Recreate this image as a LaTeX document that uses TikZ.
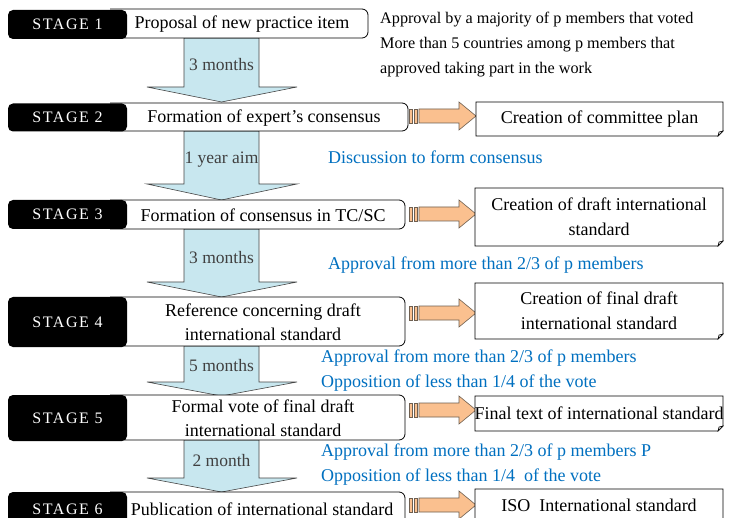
\documentclass[tikz,border=0pt]{standalone}
\usepackage{fontspec}
\setmainfont{Liberation Serif}
\definecolor{flowblue}{RGB}{200,231,239}
\definecolor{floworange}{RGB}{250,192,143}
\definecolor{orangeedge}{RGB}{110,95,80}
\definecolor{noteblue}{RGB}{0,112,192}
\definecolor{edgegray}{RGB}{70,70,70}
\definecolor{labelgray}{RGB}{64,64,64}

\tikzset{
  stagetag/.style={fill=black, rounded corners=5pt, text=white, inner sep=0pt,
    minimum width=119pt,
    font=\fontsize{16}{16}\selectfont\addfontfeature{LetterSpace=10}},
  stepbox/.style={draw=black, line width=0.8pt, fill=white, rounded corners=6pt},
  steptext/.style={font=\fontsize{18}{24}\selectfont, align=center, inner sep=0pt},
  resultbox/.style={draw=black, line width=0.8pt, fill=white},
  resulttext/.style={font=\fontsize{18}{25}\selectfont, align=center, inner sep=0pt},
  downarrow/.style={fill=flowblue, draw=edgegray, line width=0.6pt, line join=miter},
  sidearrow/.style={fill=floworange, draw=orangeedge, line width=0.6pt, line join=miter},
  timetext/.style={font=\fontsize{17.5}{17.5}\selectfont, text=labelgray, inner sep=0pt},
  notetext/.style={font=\fontsize{18}{25}\selectfont, text=noteblue, align=left, anchor=west, inner sep=0pt},
  plaintext/.style={font=\fontsize{16.2}{25}\selectfont, align=left, anchor=north west, inner sep=0pt},
}

% block arrow pointing down: top y, head base y, tip y, label node name, label
\newcommand\blockdown[5]{%
  \draw[downarrow] (184,#1) -- (259,#1) -- (259,#2) -- (297,#2) -- (221.5,#3)
    -- (147,#2) -- (184,#2) -- cycle;
  \node[timetext] (#4) at (221.5,{(#1+#2)/2+2}) {#5};
}
% orange arrow pointing right, centred on the given y
\newcommand\blockright[1]{%
  \draw[sidearrow] (409,#1-7) rectangle (412.5,#1+7);
  \draw[sidearrow] (414,#1-7) rectangle (417.5,#1+7);
  \draw[sidearrow] (419,#1-7) -- (459,#1-7) -- (459,#1-14) -- (476,#1)
    -- (459,#1+14) -- (459,#1+7) -- (419,#1+7) -- cycle;
}
% result box with a folded bottom-right corner: name, x1, y1, x2, y2
\newcommand\foldbox[5]{%
  \draw[resultbox] (#2,#3) -- (#4,#3) -- (#4,#5-5) -- (#4-5,#5) -- (#2,#5) -- cycle;
  \draw[line width=0.6pt, fill=black!12] (#4,#5-5) -- (#4-4,#5-4) -- (#4-5,#5) -- cycle;
  \coordinate (#1) at ({(#2+#4)/2},{(#3+#5)/2});
}

\begin{document}
\begin{tikzpicture}[x=1pt,y=-1pt]
\useasboundingbox (0,0) rectangle (730,518);
\clip (0,0) rectangle (730,518);
\fill[white] (0,0) rectangle (730,518);

% ---- downward block arrows between the stages
\blockdown{38}{87}{102}{d1}{3 months}
\blockdown{131}{184}{200}{d2}{1 year aim}
\blockdown{229}{282}{297}{d3}{3 months}
\blockdown{346}{382}{396}{d4}{5 months}
\blockdown{440}{478}{492}{d5}{2 month}

% ---- step boxes (white, rounded on the right) with their stage tags
\draw[stepbox] (110,9) -- (368,9) -- (368,38) -- (110,38);
\node[stagetag, minimum height=29pt] (s1) at (67.5,24.5) {STAGE 1};
\node[steptext] (p1) at (242,24) {Proposal of new practice item};

\draw[stepbox] (110,103) -- (408,103) -- (408,131) -- (110,131);
\node[stagetag, minimum height=28pt] (s2) at (67.5,117.5) {STAGE 2};
\node[steptext] (p2) at (264,118) {Formation of expert's consensus};

\draw[stepbox] (110,200) -- (405,200) -- (405,229) -- (110,229);
\node[stagetag, minimum height=29pt] (s3) at (67.5,214.5) {STAGE 3};
\node[steptext] (p3) at (263,215) {Formation of consensus in TC/SC};

\draw[stepbox] (110,297) -- (405,297) -- (405,346) -- (110,346);
\node[stagetag, minimum height=50pt] (s4) at (67.5,322) {STAGE 4};
\node[steptext] (p4) at (263,322) {Reference concerning draft\\international standard};

\draw[stepbox] (110,395) -- (405,395) -- (405,440) -- (110,440);
\node[stagetag, minimum height=46pt] (s5) at (67.5,418) {STAGE 5};
\node[steptext] (p5) at (263,418) {Formal vote of final draft\\international standard};

\draw[stepbox] (110,492) -- (405,492) -- (405,535) -- (110,535);
\node[stagetag, minimum height=34pt] (s6) at (67.5,509) {STAGE 6};
\node[steptext] (p6) at (262,509) {Publication of international standard};

% ---- outputs of the stages
\blockright{116}
\foldbox{r2}{476}{102}{723}{136}
\node[resulttext] (o2) at (r2) {Creation of committee plan};

\blockright{214}
\foldbox{r3}{475}{188}{723}{246}
\node[resulttext] (o3) at (r3) {Creation of draft international\\standard};

\blockright{313}
\foldbox{r4}{475}{283}{723}{339}
\node[resulttext] (o4) at (r4) {Creation of final draft\\international standard};

\blockright{410}
\foldbox{r5}{475}{396}{723}{431}
\node[resulttext] (o5) at (599,413) {Final text of international standard};

\blockright{505}
\foldbox{r6}{475}{489}{723}{545}
\node[resulttext] (o6) at (599,505) {ISO\ \ International standard};

% ---- conditions
\node[plaintext] (c1) at (380,12) {Approval by a majority of p members that voted\\More than 5 countries among p members that\\approved taking part in the work};
\node[notetext] (n2) at (328,157) {Discussion to form consensus};
\node[notetext] (n3) at (328,265) {Approval from more than 2/3 of p members};
\node[notetext] (n4) at (321,370.5) {Approval from more than 2/3 of p members\\Opposition of less than 1/4 of the vote};
\node[notetext] (n5) at (321,464.5) {Approval from more than 2/3 of p members P\\Opposition of less than 1/4\ \ of the vote};
\end{tikzpicture}
\end{document}
